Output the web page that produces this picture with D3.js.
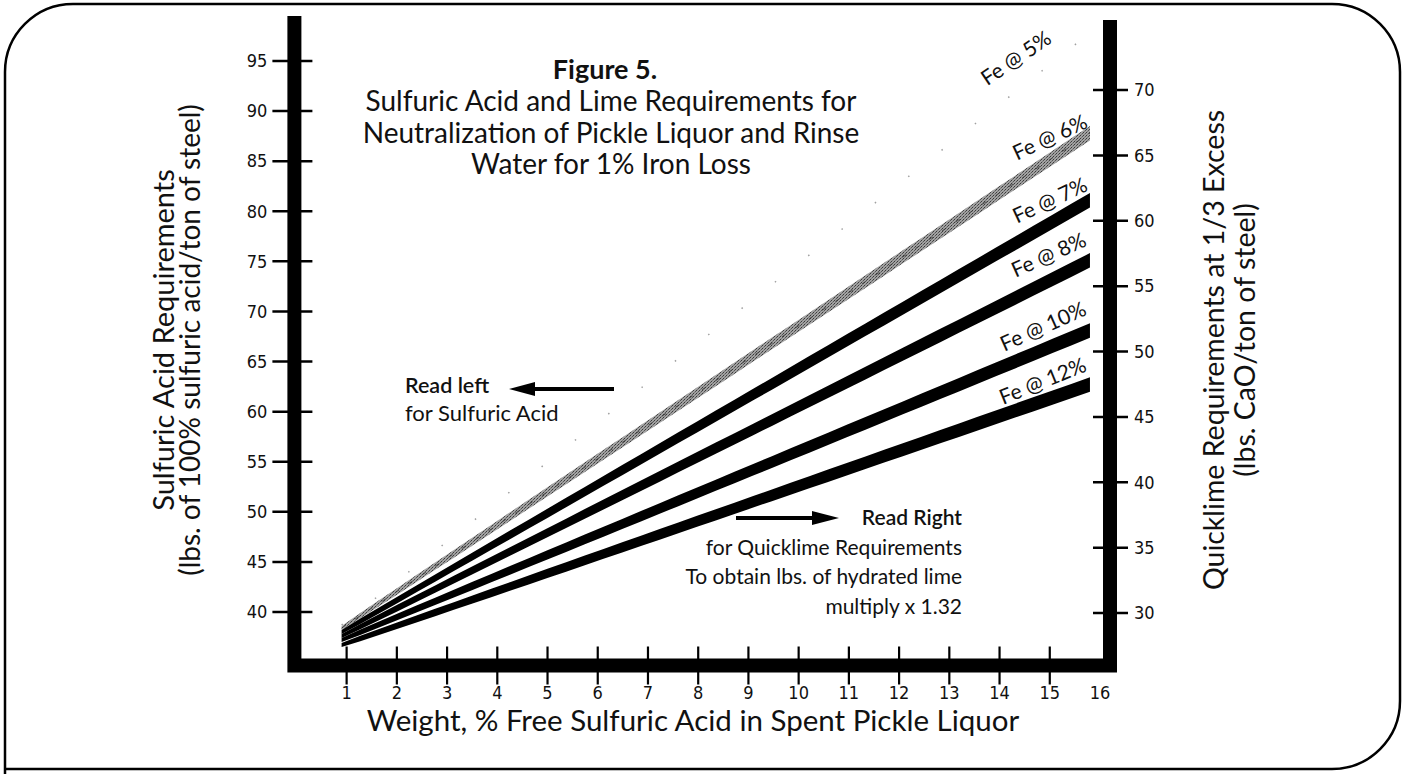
<!DOCTYPE html>
<html>
<head>
<meta charset="utf-8">
<script src="https://cdn.jsdelivr.net/npm/d3@7/dist/d3.min.js"></script>
<style>
  html, body { margin: 0; padding: 0; background: #fff; }
  svg { display: block; }
  .txt { font-family: Lato, "Open Sans", sans-serif; fill: #111; }
  .num { font-family: "Liberation Sans Narrow", "DejaVu Sans Condensed", "Arial Narrow", Lato, sans-serif; font-stretch: condensed; fill: #111; }
</style>
</head>
<body>
<script>
// ---------- data ----------
const xTickValues = [1, 2, 3, 4, 5, 6, 7, 8, 9, 10, 11, 12, 13, 14, 15];
const xTickLabels = ["1", "2", "3", "4", "5", "6", "7", "8", "9", "10", "11", "12", "13", "14", "15", "16"];
const leftTickValues = [40, 45, 50, 55, 60, 65, 70, 75, 80, 85, 90, 95];
const rightTickValues = [30, 35, 40, 45, 50, 55, 60, 65, 70];

const seriesNames = ["Fe @ 5%", "Fe @ 6%", "Fe @ 7%", "Fe @ 8%", "Fe @ 10%", "Fe @ 12%"];
const xPoints = [0.9, 15.8];          // % free sulfuric acid
const fe5  = [38.7, 97.8];            // lbs sulfuric acid / ton (left scale)
const fe6  = [38.4, 87.8];
const fe7  = [38.0, 81.1];
const fe8  = [37.6, 75.1];
const fe10 = [37.2, 68.1];
const fe12 = [36.7, 62.7];
const seriesValues = [fe5, fe6, fe7, fe8, fe10, fe12];

const titleLines = ["Sulfuric Acid and Lime Requirements for", "Neutralization of Pickle Liquor and Rinse", "Water for 1% Iron Loss"];
const leftTitle = ["Sulfuric Acid Requirements", "(lbs. of 100% sulfuric acid/ton of steel)"];
const rightTitle = ["Quicklime Requirements at 1/3 Excess", "(lbs. CaO/ton of steel)"];
const xTitle = "Weight, % Free Sulfuric Acid in Spent Pickle Liquor";
const readRight = ["Read Right", "for Quicklime Requirements", "To obtain lbs. of hydrated lime", "multiply x 1.32"];

// ---------- layout ----------
const W = 1404, H = 774;
const svg = d3.select("body").append("svg").attr("width", W).attr("height", H);

const x = d3.scaleLinear().domain([0, 16]).range([296.4, 1100]);
const yL = d3.scaleLinear().domain([40, 95]).range([612, 61]);
const yR = d3.scaleLinear().domain([30, 70]).range([613, 90]);

// defs: hatched gray pattern for the 6% band
const defs = svg.append("defs");
const pat = defs.append("pattern").attr("id", "hatch").attr("patternUnits", "userSpaceOnUse")
  .attr("width", 3).attr("height", 3);
pat.append("rect").attr("width", 3).attr("height", 3).attr("fill", "#a2a2a2");
pat.append("rect").attr("width", 1).attr("height", 1).attr("fill", "#3a3a3a");
pat.append("rect").attr("x", 2).attr("y", 1).attr("width", 1).attr("height", 1).attr("fill", "#555");
pat.append("rect").attr("x", 1).attr("y", 2).attr("width", 1).attr("height", 1).attr("fill", "#777");

// frame (rounded corners except bottom-left)
const r = 68;
svg.append("path")
  .attr("d", `M5,774 L5,${4 + r} A${r},${r} 0 0 1 ${5 + r},4 L${1400 - r},4 A${r},${r} 0 0 1 1400,${4 + r} L1400,${769 - r} A${r},${r} 0 0 1 ${1400 - r},769 L5,769`)
  .attr("fill", "none").attr("stroke", "#000").attr("stroke-width", 2.5);

// ---------- series bands ----------
const x0px = x(xPoints[0]), x1px = x(xPoints[1]);
function thick(px) {
  const f = Math.max(0, Math.min(1, (px - x0px) / (x1px - x0px)));
  return 4 + 10.5 * Math.pow(f, 0.55);
}
function bandPts(vals) {
  const pts = [];
  const n = 40;
  for (let i = 0; i <= n; i++) {
    const xv = xPoints[0] + (xPoints[1] - xPoints[0]) * i / n;
    const vv = vals[0] + (vals[1] - vals[0]) * i / n;
    pts.push({ px: x(xv), py: yL(vv) });
  }
  return pts;
}
const area = d3.area().x(d => d.px).y0(d => d.py - thick(d.px) / 2).y1(d => d.py + thick(d.px) / 2);

// Fe @ 5% : faint dotted line
svg.append("line")
  .attr("x1", x(xPoints[0])).attr("y1", yL(fe5[0]))
  .attr("x2", x(xPoints[1])).attr("y2", yL(fe5[1]))
  .attr("stroke", "#a0a0a0").attr("stroke-width", 1.5)
  .attr("stroke-dasharray", "1.5,41");

// Fe @ 6% : hatched gray band
svg.append("path").attr("d", area(bandPts(fe6))).attr("fill", "url(#hatch)");
svg.append("path").attr("d", d3.line().x(d => d.px).y(d => d.py)(bandPts(fe6)))
  .attr("fill", "none").attr("stroke", "#333").attr("stroke-width", 0.8).attr("stroke-dasharray", "5,11");

// black bands
[fe7, fe8, fe10, fe12].forEach(vals => {
  svg.append("path").attr("d", area(bandPts(vals))).attr("fill", "#000");
});

// series labels
const labelPos = [
  { dx: -37, dy: 9, rot: -34 },
  { dx: -1, dy: -6, rot: -25 },
  { dx: -1, dy: -10, rot: -25 },
  { dx: -2, dy: -15, rot: -24 },
  { dx: -2, dy: -16, rot: -24 },
  { dx: -2, dy: -14, rot: -22 }
];
seriesNames.forEach((name, i) => {
  const vals = seriesValues[i];
  const p = labelPos[i];
  svg.append("text").attr("class", "txt")
    .attr("transform", `translate(${x(xPoints[1]) + p.dx},${yL(vals[1]) + p.dy}) rotate(${p.rot})`)
    .attr("text-anchor", "end").attr("font-size", 21).text(name);
});

// ---------- axes frame (thick bars) ----------
const leftBarX = x(0) - 2, rightBarX = x(16) + 10, bottomBarY = 665.5;
svg.append("path")
  .attr("d", `M${leftBarX},16 L${leftBarX},${bottomBarY} L${rightBarX},${bottomBarY} L${rightBarX},20`)
  .attr("fill", "none").attr("stroke", "#000").attr("stroke-width", 14).attr("stroke-linejoin", "miter");

// left ticks
const gL = svg.append("g");
leftTickValues.forEach(v => {
  gL.append("line").attr("x1", leftBarX - 22).attr("x2", leftBarX + 18)
    .attr("y1", yL(v)).attr("y2", yL(v)).attr("stroke", "#000").attr("stroke-width", 2.5);
  gL.append("text").attr("class", "num").attr("x", leftBarX - 27).attr("y", yL(v))
    .attr("dy", "0.35em").attr("text-anchor", "end").attr("font-size", 18).text(v);
});
// right ticks
const gR = svg.append("g");
rightTickValues.forEach(v => {
  gR.append("line").attr("x1", rightBarX - 17).attr("x2", rightBarX + 18)
    .attr("y1", yR(v)).attr("y2", yR(v)).attr("stroke", "#000").attr("stroke-width", 2.5);
  gR.append("text").attr("class", "num").attr("x", rightBarX + 24).attr("y", yR(v))
    .attr("dy", "0.35em").attr("text-anchor", "start").attr("font-size", 18).text(v);
});
// x ticks
const gX = svg.append("g");
xTickValues.forEach(v => {
  gX.append("line").attr("x1", x(v)).attr("x2", x(v))
    .attr("y1", bottomBarY - 19).attr("y2", bottomBarY + 19).attr("stroke", "#000").attr("stroke-width", 2.2);
});
xTickLabels.forEach((t, i) => {
  gX.append("text").attr("class", "num").attr("x", x(i + 1)).attr("y", 699)
    .attr("text-anchor", "middle").attr("font-size", 18).text(t);
});

// ---------- titles ----------
svg.append("text").attr("class", "txt").attr("x", 605).attr("y", 79)
  .attr("text-anchor", "middle").attr("font-size", 27).attr("font-weight", "bold").text("Figure 5.");
titleLines.forEach((t, i) => {
  svg.append("text").attr("class", "txt").attr("x", 611).attr("y", 111 + i * 31.5)
    .attr("text-anchor", "middle").attr("font-size", 28).text(t);
});

svg.append("text").attr("class", "txt").attr("x", 693).attr("y", 731)
  .attr("text-anchor", "middle").attr("font-size", 29.5).text(xTitle);

[{ bx: 174, fs: 29 }, { bx: 200, fs: 28 }].forEach((o, i) => {
  svg.append("text").attr("class", "txt")
    .attr("transform", `translate(${o.bx},340) rotate(-90)`)
    .attr("text-anchor", "middle").attr("font-size", o.fs).text(leftTitle[i]);
});
[{ bx: 1224, cy: 350 }, { bx: 1255, cy: 340 }].forEach((o, i) => {
  svg.append("text").attr("class", "txt")
    .attr("transform", `translate(${o.bx},${o.cy}) rotate(-90)`)
    .attr("text-anchor", "middle").attr("font-size", 28.5).text(rightTitle[i]);
});

// ---------- annotations ----------
svg.append("text").attr("class", "txt").attr("x", 405).attr("y", 393)
  .attr("font-size", 21.5).attr("font-weight", 600).text("Read left");
svg.append("text").attr("class", "txt").attr("x", 405).attr("y", 421)
  .attr("font-size", 22).text("for Sulfuric Acid");
// left arrow
svg.append("line").attr("x1", 532).attr("x2", 614).attr("y1", 389).attr("y2", 389)
  .attr("stroke", "#000").attr("stroke-width", 4);
svg.append("path").attr("d", "M509,389 L535,382 L535,396 Z").attr("fill", "#000");

readRight.forEach((t, i) => {
  svg.append("text").attr("class", "txt").attr("x", 962).attr("y", 525 + i * 29.5)
    .attr("text-anchor", "end").attr("font-size", 21)
    .attr("font-weight", i === 0 ? 600 : 400).text(t);
});
// right arrow
svg.append("line").attr("x1", 736).attr("x2", 815).attr("y1", 518).attr("y2", 518)
  .attr("stroke", "#000").attr("stroke-width", 4);
svg.append("path").attr("d", "M839,518 L812,511 L812,525 Z").attr("fill", "#000");
</script>
</body>
</html>
